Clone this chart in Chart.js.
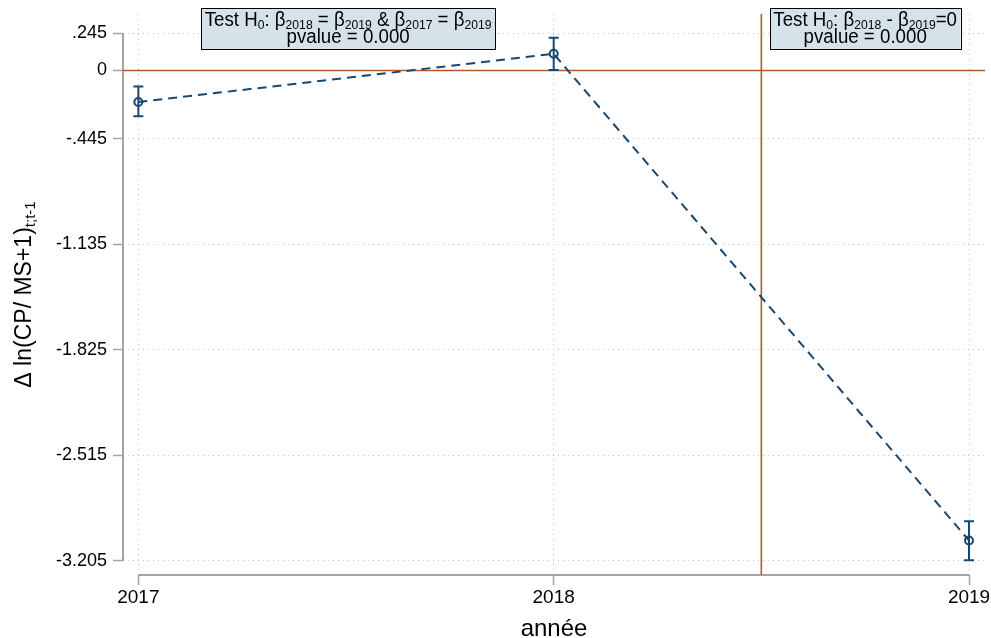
<!DOCTYPE html>
<html>
<head>
<meta charset="utf-8">
<script src="https://cdn.jsdelivr.net/npm/chart.js@4/dist/chart.umd.min.js"></script>
<style>
  html, body { margin: 0; padding: 0; background: #fff; }
  #wrap { width: 991px; height: 638px; }
</style>
</head>
<body>
<div id="wrap"><canvas id="chart" width="991" height="638"></canvas></div>
<script>
// data
var YEARS = [2017, 2018, 2019];
var COEF = [-0.206, 0.109, -3.074];
var CI_LOW = [-0.299, 0.004, -3.203];
var CI_HIGH = [-0.104, 0.214, -2.948];

var Y_TICKS = [0.245, 0, -0.445, -1.135, -1.825, -2.515, -3.205];
var Y_TICK_LABELS = ['.245', '0', '-.445', '-1.135', '-1.825', '-2.515', '-3.205'];
var X_TICKS = [2017, 2018, 2019];

var ZERO_LINE = 0;
var TEST_LINE_X = 2018.5;

// annotation boxes: x position (data units) + two lines, _{...} = subscript
var BOX_X = [2017.505, 2018.75];
var BOX_LINE1 = ['Test H_{0}: \u03b2_{2018} = \u03b2_{2019} & \u03b2_{2017} = \u03b2_{2019}',
                 'Test H_{0}: \u03b2_{2018} - \u03b2_{2019}=0'];
var BOX_LINE2 = ['pvalue = 0.000', 'pvalue = 0.000'];

var X_TITLE = 'ann\u00e9e';
var Y_TITLE = '\u0394 ln(CP/ MS+1)_{t;t-1}';

var FONT = "'Liberation Sans', Arial, Helvetica, sans-serif";
var NAVY = '#1a476f';
var RUST = '#b5582b';
var GRID = '#c4c4c4';
var AXIS = '#a3a3a3';

function parseRich(str) {
  var parts = [];
  var re = /_\{([^}]*)\}/g, last = 0, m;
  while ((m = re.exec(str)) !== null) {
    if (m.index > last) parts.push({ t: str.slice(last, m.index), sub: false });
    parts.push({ t: m[1], sub: true });
    last = re.lastIndex;
  }
  if (last < str.length) parts.push({ t: str.slice(last), sub: false });
  return parts;
}

function measureRich(ctx, parts, size, subSize) {
  var total = 0;
  parts.forEach(function (p) {
    ctx.font = (p.sub ? subSize : size) + 'px ' + FONT;
    p.w = ctx.measureText(p.t).width;
    total += p.w;
  });
  return total;
}

function drawRich(ctx, str, cx, baseline, size, subSize, subShift) {
  var parts = parseRich(str);
  var total = measureRich(ctx, parts, size, subSize);
  var x = cx - total / 2;
  ctx.textAlign = 'left';
  ctx.textBaseline = 'alphabetic';
  parts.forEach(function (p) {
    ctx.font = (p.sub ? subSize : size) + 'px ' + FONT;
    ctx.fillText(p.t, x, baseline + (p.sub ? subShift : 0));
    x += p.w;
  });
  return total;
}

var stataPlugin = {
  id: 'stata',
  beforeDatasetsDraw: function (chart) {
    var ctx = chart.ctx, a = chart.chartArea;
    var xs = chart.scales.x, ys = chart.scales.y;
    ctx.save();

    // axis lines spanning only the tick range
    ctx.strokeStyle = AXIS;
    ctx.lineWidth = 2;
    ctx.beginPath();
    ctx.moveTo(a.left, ys.getPixelForValue(Y_TICKS[0]));
    ctx.lineTo(a.left, ys.getPixelForValue(Y_TICKS[Y_TICKS.length - 1]));
    ctx.moveTo(xs.getPixelForValue(X_TICKS[0]), a.bottom);
    ctx.lineTo(xs.getPixelForValue(X_TICKS[X_TICKS.length - 1]), a.bottom);
    ctx.stroke();

    // reference lines
    ctx.strokeStyle = RUST;
    ctx.lineWidth = 1.6;
    ctx.beginPath();
    var y0 = ys.getPixelForValue(ZERO_LINE);
    ctx.moveTo(a.left, y0);
    ctx.lineTo(a.right, y0);
    var xv = xs.getPixelForValue(TEST_LINE_X);
    ctx.moveTo(xv, a.top);
    ctx.lineTo(xv, a.bottom);
    ctx.stroke();

    // confidence intervals
    ctx.strokeStyle = NAVY;
    ctx.lineWidth = 2;
    YEARS.forEach(function (yr, i) {
      var px = xs.getPixelForValue(yr);
      var lo = ys.getPixelForValue(CI_LOW[i]);
      var hi = ys.getPixelForValue(CI_HIGH[i]);
      ctx.beginPath();
      ctx.moveTo(px, lo); ctx.lineTo(px, hi);
      ctx.moveTo(px - 5, lo); ctx.lineTo(px + 5, lo);
      ctx.moveTo(px - 5, hi); ctx.lineTo(px + 5, hi);
      ctx.stroke();
    });
    ctx.restore();
  },
  afterDraw: function (chart) {
    var ctx = chart.ctx, a = chart.chartArea;
    var xs = chart.scales.x;
    ctx.save();
    ctx.fillStyle = '#000';

    // test boxes (text slightly narrowed, like the Stata export)
    var SQ = 0.935;
    BOX_X.forEach(function (bx, i) {
      var cx = xs.getPixelForValue(bx);
      var w1 = measureRich(ctx, parseRich(BOX_LINE1[i]), 20, 13);
      ctx.font = '20px ' + FONT;
      var w2 = ctx.measureText(BOX_LINE2[i]).width;
      var w = Math.max(w1, w2) * SQ + 7;
      var top = 8, h = 41;
      ctx.fillStyle = 'rgb(214,226,233)';
      ctx.fillRect(cx - w / 2, top, w, h);
      ctx.strokeStyle = '#000';
      ctx.lineWidth = 1;
      ctx.strokeRect(Math.round(cx - w / 2) + 0.5, top + 0.5, Math.round(w), h);
      ctx.fillStyle = '#000';
      ctx.save();
      ctx.translate(cx, 0);
      ctx.scale(SQ, 1);
      drawRich(ctx, BOX_LINE1[i], 0, 26, 20, 13, 3);
      drawRich(ctx, BOX_LINE2[i], 0, 42.5, 20, 13, 3);
      ctx.restore();
    });

    // x title
    ctx.font = '24px ' + FONT;
    ctx.textAlign = 'center';
    ctx.textBaseline = 'alphabetic';
    ctx.fillText(X_TITLE, (a.left + a.right) / 2, 636);

    // y title
    ctx.translate(31, (a.top + a.bottom) / 2);
    ctx.rotate(-Math.PI / 2);
    drawRich(ctx, Y_TITLE, 0, 0, 23, 15, 4);
    ctx.restore();
  }
};

new Chart(document.getElementById('chart').getContext('2d'), {
  type: 'scatter',
  data: {
    datasets: [{
      data: YEARS.map(function (yr, i) { return { x: yr, y: COEF[i] }; }),
      showLine: true,
      borderColor: NAVY,
      borderWidth: 2,
      borderDash: [9, 6],
      pointStyle: 'circle',
      pointRadius: 4,
      pointBorderWidth: 2,
      pointBorderColor: NAVY,
      pointBackgroundColor: 'rgba(0,0,0,0)'
    }]
  },
  options: {
    responsive: false,
    animation: false,
    devicePixelRatio: 1,
    layout: { padding: { top: 14, right: 6, left: 0, bottom: 0 } },
    plugins: { legend: { display: false }, tooltip: { enabled: false } },
    scales: {
      x: {
        type: 'linear',
        min: 2016.963,
        max: 2019.0385,
        afterBuildTicks: function (s) { s.ticks = X_TICKS.map(function (v) { return { value: v }; }); },
        afterFit: function (s) { s.height = 63; s.paddingLeft = 0; s.paddingRight = 0; },
        ticks: {
          autoSkip: false, maxRotation: 0, padding: 1, color: '#000',
          font: { family: FONT, size: 19 },
          callback: function (v) { return String(v); }
        },
        grid: { color: GRID, lineWidth: 1, tickLength: 10, tickColor: AXIS, tickWidth: 1.5 },
        border: { display: false, dash: [1, 4] }
      },
      y: {
        min: -3.2995,
        max: 0.3695,
        afterBuildTicks: function (s) { s.ticks = Y_TICKS.map(function (v) { return { value: v }; }); },
        afterFit: function (s) { s.width = 123; s.paddingTop = 0; s.paddingBottom = 0; },
        ticks: {
          autoSkip: false, padding: 6, color: '#000',
          font: { family: FONT, size: 18 },
          callback: function (v) {
            var i = Y_TICKS.indexOf(v);
            return i >= 0 ? Y_TICK_LABELS[i] : '';
          }
        },
        grid: { color: GRID, lineWidth: 1, tickLength: 10, tickColor: AXIS, tickWidth: 1.5 },
        border: { display: false, dash: [1, 4] }
      }
    }
  },
  plugins: [stataPlugin]
});
</script>
</body>
</html>
